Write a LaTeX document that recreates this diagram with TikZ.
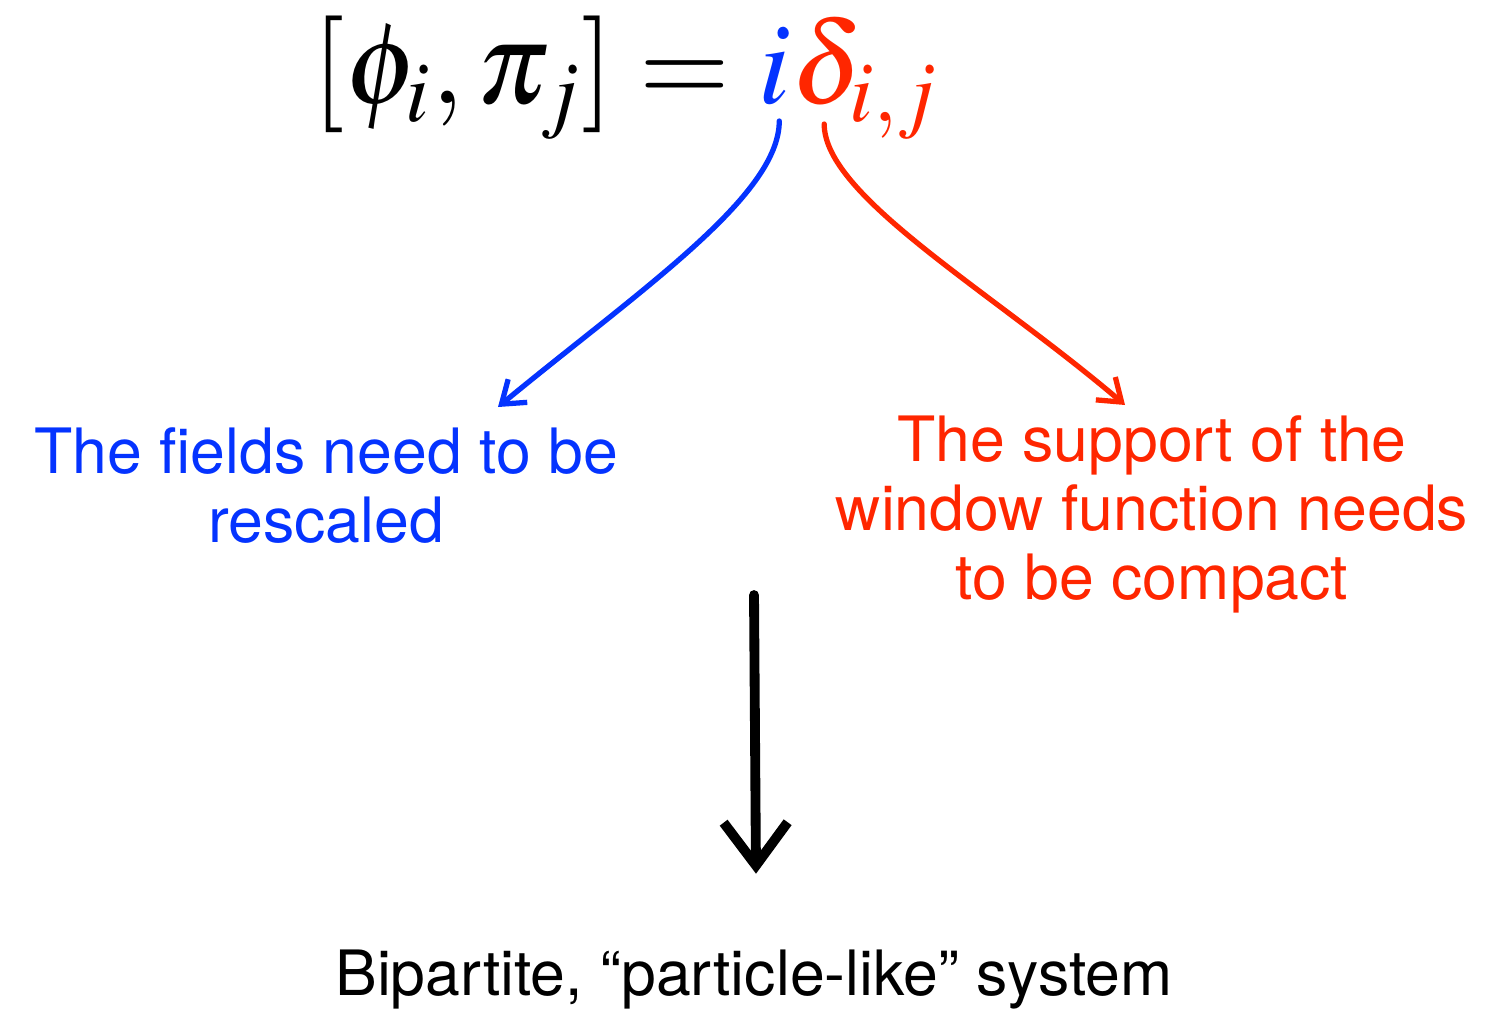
\documentclass[tikz,border=0pt]{standalone}
\usepackage{mathptmx}
\usepackage[no-math]{fontspec}
\setmainfont{TeX Gyre Heros}
\usetikzlibrary{arrows.meta,positioning,calc}
\definecolor{kBlue}{RGB}{4, 51, 255}
\definecolor{kRed}{RGB}{255, 38, 0}

\begin{document}
\begin{tikzpicture}[line cap=round, line join=round,
    eqn/.style={inner sep=0pt, anchor=base west, font=\fontsize{33.2}{40}\selectfont},
    textblock/.style={inner sep=0pt, align=center, font=\fontsize{17.8}{19.6}\selectfont},
    curvearrow/.style={line width=1.5pt, -{Straight Barb[length=2.1mm,width=3mm]}},
    chalk/.style={line width=2.8pt, -{Straight Barb[length=4.3mm,width=6.4mm]}}]
  \useasboundingbox (0,0) rectangle (15.02,-10.13);
  % commutator
  \node[eqn] (lhs) at (3.12,-1.04) {$[\phi_i,\pi_j]={}$};
  \node[eqn, text=kBlue] (imag) at (lhs.base east) {$i$};
  \node[eqn, text=kRed] (delta) at (imag.base east) {$\delta_{i,j}$};
  % what each factor asks for
  \node[textblock, text=kBlue, anchor=north] (fields) at (3.26,-4.27) {The fields need to be\\rescaled};
  \node[textblock, text=kRed, anchor=north] (support) at (11.52,-4.15) {The support of the\\window function needs\\to be compact};
  \node[textblock, anchor=base] (system) at (7.54,-9.95) {Bipartite, “particle-like” system};
  \draw[kBlue, curvearrow] ($(imag.south)+(0.05,-0.15)$) .. controls +(0,-0.75) and (6.4,-2.9) .. ($(fields.north)+(1.72,0.2)$);
  \draw[kRed, curvearrow] ($(delta.base west)+(0.33,-0.2)$) .. controls +(0,-0.72) and (9.9,-2.9) .. ($(support.north)+(-0.27,0.1)$);
  % hand drawn arrow
  \coordinate (pen) at (7.54,-5.95);
  \draw[chalk] (pen) -- ($(system.north)+(0.02,0.75)$);
\end{tikzpicture}
\end{document}
